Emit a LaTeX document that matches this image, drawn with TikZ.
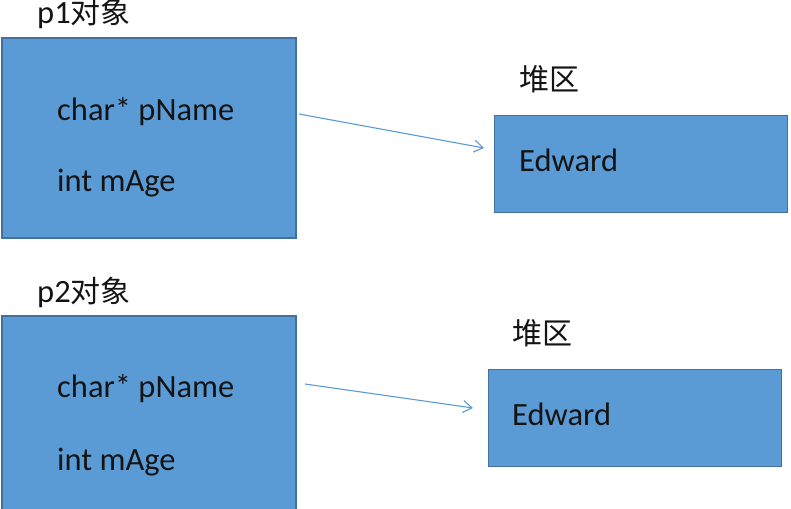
\documentclass[tikz,border=0pt]{standalone}
\usepackage{fontspec}
\setmainfont{Carlito}
\newfontfamily\cjk{Noto Sans CJK SC}
\usetikzlibrary{arrows.meta}
\definecolor{boxfill}{HTML}{5B9BD5}
\definecolor{boxline}{HTML}{41719C}
\definecolor{arrowc}{HTML}{5B9BD5}
\definecolor{txt}{HTML}{141414}
\begin{document}
\begin{tikzpicture}[x=1pt,y=-1pt,
  objbox/.style={draw=boxline,fill=boxfill,line width=1.3pt},
  lbl/.style={anchor=base west,inner sep=0pt,font=\fontsize{32.5}{38}\selectfont,text=txt},
  ptr/.style={draw=arrowc,line width=1.1pt,-{Straight Barb[length=9pt,width=12pt,line width=1.1pt]}}]
\clip (0,0) rectangle (791,508);
\fill[white] (0,0) rectangle (791,508);
% object p1
\node[lbl] (t1) at (37,24) {p1{\cjk\fontsize{30}{36}\selectfont 对象}};
\draw[objbox] (2,38) rectangle (296,238);
\node[lbl] (f1a) at (57,120) {char* pName};
\node[lbl] (f1b) at (57,191) {int mAge};
% heap 1
\node[lbl] (h1) at (519,91) {\cjk\fontsize{30}{36}\selectfont 堆区};
\node[objbox,minimum width=293pt,minimum height=97pt,anchor=north west,inner sep=0pt] (hb1) at (494,115) {};
\node[lbl] (e1) at (519,171) {Edward};
\coordinate (a1s) at (299,114);
\coordinate (a1e) at (484,148);
\draw[ptr] (a1s) -- (a1e);
% object p2
\node[lbl] (t2) at (37,302) {p2{\cjk\fontsize{30}{36}\selectfont 对象}};
\draw[objbox] (2,316) rectangle (296,530);
\node[lbl] (f2a) at (57,397) {char* pName};
\node[lbl] (f2b) at (57,470) {int mAge};
% heap 2
\node[lbl] (h2) at (512,344) {\cjk\fontsize{30}{36}\selectfont 堆区};
\node[objbox,minimum width=293pt,minimum height=97pt,anchor=north west,inner sep=0pt] (hb2) at (488,369) {};
\node[lbl] (e2) at (512,425) {Edward};
\coordinate (a2s) at (305,384);
\coordinate (a2e) at (473,408);
\draw[ptr] (a2s) -- (a2e);
\end{tikzpicture}
\end{document}
